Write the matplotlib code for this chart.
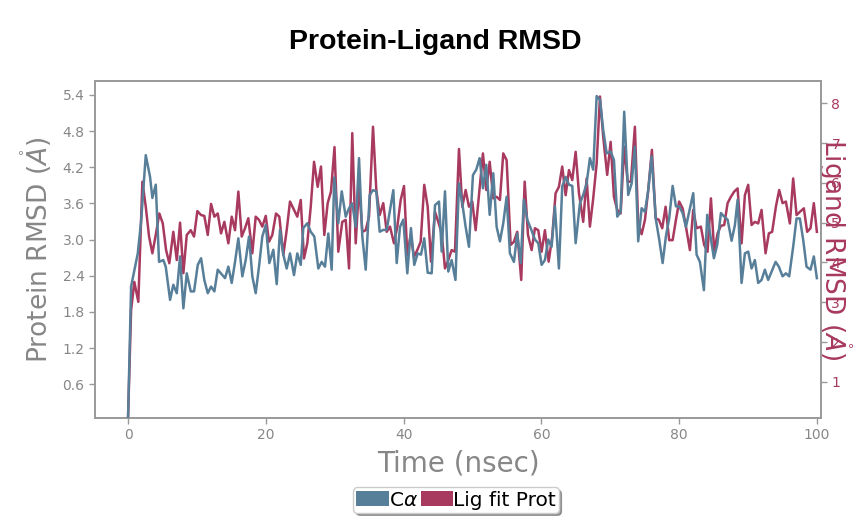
import matplotlib
matplotlib.use("Agg")
import matplotlib.pyplot as plt
from matplotlib.patches import Patch

# ---------------- data ----------------
ca_time = [0.0, 0.44, 1.41, 1.89, 2.57, 3.19, 3.53, 4.02, 4.50, 5.12, 5.47, 6.10, 6.57, 7.07, 7.55,
           8.03, 8.52, 9.10, 9.58, 10.12, 10.60, 11.07, 11.57, 12.05, 12.53, 13.02, 13.69, 14.08,
           14.56, 15.05, 15.53, 16.01, 16.59, 17.08, 17.56, 18.04, 18.53, 19.01, 19.49, 19.99,
           20.51, 21.09, 21.58, 22.06, 22.54, 23.03, 23.51, 24.09, 24.57, 25.07, 25.44, 26.02,
           26.52, 27.04, 27.62, 28.11, 28.59, 29.07, 29.56, 29.94, 30.52, 31.02, 31.60, 32.08,
           32.55, 33.05, 33.53, 34.01, 34.50, 35.08, 35.56, 36.04, 36.53, 37.05, 37.55, 38.03,
           38.51, 39.00, 39.48, 39.96, 40.54, 41.07, 41.55, 42.05, 42.53, 43.00, 43.50, 44.08,
           44.56, 45.14, 45.53, 46.01, 46.49, 46.98, 47.53, 48.04, 48.52, 49.01, 49.49, 50.07,
           50.55, 51.04, 51.52, 52.00, 52.50, 53.02, 53.51, 53.99, 54.47, 54.96, 55.44, 56.02,
           56.50, 57.00, 57.47, 57.95, 58.45, 59.07, 59.55, 60.04, 60.52, 61.00, 61.49, 61.97,
           62.55, 63.03, 63.53, 64.01, 64.49, 64.98, 65.60, 66.08, 66.57, 67.05, 67.53, 68.03,
           68.51, 68.98, 69.48, 70.06, 70.54, 71.02, 71.51, 72.03, 72.61, 73.11, 73.58, 74.06,
           74.56, 75.04, 75.52, 76.01, 76.63, 77.11, 77.61, 78.08, 78.56, 79.06, 79.54, 80.01,
           80.51, 80.99, 81.57, 82.05, 82.54, 83.02, 83.60, 84.08, 84.57, 85.05, 85.53, 86.07,
           86.55, 87.04, 87.62, 88.10, 88.49, 89.07, 89.55, 90.03, 90.52, 91.00, 91.48, 91.97,
           92.45, 92.93, 93.43, 94.01, 94.48, 95.02, 95.50, 95.98, 96.56, 97.05, 97.53, 98.01,
           98.50, 99.08, 99.56, 100.0]
ca_rmsd = [0.05, 2.22, 2.77, 3.30, 4.40, 4.04, 3.69, 3.91, 2.63, 2.66, 2.55, 2.00, 2.25, 2.11, 2.72,
           1.86, 2.44, 2.14, 2.14, 2.58, 2.69, 2.33, 2.11, 2.22, 2.14, 2.50, 2.41, 2.36,
           2.55, 2.28, 2.63, 3.02, 2.39, 2.66, 3.05, 2.39, 2.11, 2.55, 3.05, 3.24,
           2.61, 2.83, 2.26, 3.16, 2.75, 2.52, 2.77, 2.41, 2.77, 2.58, 3.19, 3.27,
           3.13, 3.05, 2.52, 2.63, 2.55, 3.10, 2.50, 4.03, 3.27, 3.80, 3.38, 3.52,
           3.60, 3.21, 4.35, 3.05, 2.50, 3.74, 3.82, 3.80, 3.13, 3.16, 3.16, 3.49,
           3.82, 2.61, 3.21, 3.33, 2.44, 3.19, 2.58, 2.77, 2.75, 3.02, 2.45, 2.44,
           3.57, 3.63, 2.80, 3.80, 2.47, 2.66, 2.33, 3.93, 3.60, 3.21, 2.88, 4.07,
           4.16, 4.35, 3.85, 4.24, 3.41, 4.10, 3.21, 2.97, 3.27, 3.71, 2.77, 2.63,
           3.10, 2.61, 3.66, 3.33, 3.19, 3.00, 2.94, 2.58, 2.66, 3.00, 2.88, 3.55,
           2.52, 3.88, 4.04, 3.91, 3.89, 2.94, 3.60, 3.74, 3.93, 4.35, 4.16, 5.38,
           5.32, 4.82, 4.43, 4.46, 4.32, 3.38, 3.46, 5.12, 3.74, 3.93, 4.54, 2.97,
           3.52, 3.46, 3.82, 4.38, 3.33, 3.00, 2.61, 3.05, 3.35, 3.89, 3.55, 3.55,
           3.44, 3.21, 3.52, 3.77, 2.75, 2.63, 2.16, 3.41, 3.05, 2.69, 2.91, 3.44,
           3.38, 3.33, 2.98, 3.24, 3.66, 2.28, 2.77, 2.80, 2.52, 2.66, 2.28, 2.33,
           2.50, 2.33, 2.47, 2.63, 2.55, 2.39, 2.44, 2.39, 2.88, 3.35, 3.35, 3.00,
           2.55, 2.50, 2.72, 2.36]

lig_time = [0.0, 0.44, 0.91, 1.49, 2.08, 2.57, 3.05, 3.53, 4.02, 4.54, 5.04, 5.52, 5.99, 6.57,
            7.07, 7.55, 8.03, 8.52, 9.10, 9.58, 10.06, 10.60, 11.07, 11.57, 12.05, 12.53, 13.02,
            13.50, 13.98, 14.56, 15.05, 15.53, 16.01, 16.50, 16.98, 17.46, 18.04, 18.53, 19.01,
            19.49, 19.99, 20.46, 20.94, 21.48, 21.96, 22.54, 23.03, 23.51, 23.99, 24.57, 25.07,
            25.54, 26.02, 26.52, 27.00, 27.53, 28.01, 28.49, 28.98, 29.46, 29.97, 30.52, 31.10,
            31.60, 32.08, 32.55, 33.05, 33.53, 34.01, 34.50, 34.98, 35.56, 36.04, 36.53, 37.05,
            37.55, 38.03, 38.61, 39.09, 39.58, 40.06, 40.54, 41.03, 41.51, 41.99, 42.48, 43.00,
            43.50, 43.98, 44.56, 45.04, 45.53, 46.01, 46.49, 46.98, 47.46, 48.04, 48.52, 49.01,
            49.49, 49.97, 50.46, 50.94, 51.52, 52.00, 52.50, 53.02, 53.51, 53.99, 54.47, 54.96,
            55.54, 56.02, 56.50, 57.08, 57.58, 58.06, 58.59, 59.07, 59.55, 60.04, 60.52, 61.06,
            61.58, 62.07, 62.55, 63.03, 63.53, 64.01, 64.49, 64.98, 65.46, 66.08, 66.57, 67.05,
            67.53, 68.03, 68.51, 68.98, 69.56, 70.06, 70.54, 71.02, 71.51, 72.03, 72.53, 73.00,
            73.58, 74.06, 74.56, 75.04, 75.52, 76.05, 76.59, 77.07, 77.55, 78.04, 78.56, 79.06,
            79.54, 80.01, 80.51, 80.99, 81.57, 82.05, 82.54, 83.16, 83.64, 84.13, 84.62, 85.10,
            85.59, 86.07, 86.55, 87.04, 87.52, 88.00, 88.49, 89.07, 89.55, 90.03, 90.52, 91.00,
            91.48, 91.97, 92.55, 93.03, 93.51, 94.05, 94.53, 95.02, 95.50, 96.08, 96.56, 97.05,
            97.53, 98.11, 98.59, 99.08, 99.56, 100.0]
lig_rmsd = [0.10, 2.80, 3.51, 3.01, 6.03, 5.40, 4.65, 4.23, 4.69, 5.23, 4.98, 4.31, 3.98, 4.77,
            4.06, 5.00, 3.73, 4.69, 4.81, 4.65, 5.29, 5.19, 5.17, 4.69, 5.47, 5.15, 5.23,
            4.73, 5.02, 4.48, 5.15, 4.81, 5.78, 4.65, 4.86, 5.11, 4.23, 5.15, 5.07,
            4.90, 5.17, 4.52, 4.69, 5.23, 5.15, 4.19, 4.81, 5.53, 5.36, 5.15, 5.57,
            4.10, 4.48, 5.40, 6.53, 5.90, 6.41, 4.69, 5.49, 5.78, 6.90, 4.27, 5.02,
            5.07, 3.85, 7.25, 4.48, 5.95, 4.77, 4.81, 5.15, 7.41, 5.82, 5.19, 5.49,
            4.77, 4.90, 4.48, 4.90, 5.57, 5.92, 4.19, 4.69, 4.14, 4.31, 4.52, 5.95,
            5.40, 4.02, 5.27, 5.02, 4.73, 3.85, 4.06, 4.31, 4.27, 6.85, 5.40, 5.82,
            5.40, 5.53, 4.81, 5.69, 6.74, 5.82, 6.53, 5.61, 5.65, 5.57, 6.74, 6.57,
            4.44, 4.52, 4.77, 3.56, 6.03, 4.69, 4.31, 4.86, 4.81, 4.27, 4.81, 4.02,
            4.65, 5.74, 5.90, 6.41, 5.69, 6.32, 6.07, 6.78, 5.74, 5.02, 6.11, 4.90,
            5.61, 6.49, 8.17, 7.16, 6.20, 7.03, 5.65, 5.32, 5.23, 6.91, 6.03, 6.03,
            7.41, 4.98, 4.71, 5.07, 5.82, 6.83, 5.11, 5.07, 4.86, 5.40, 4.56, 4.56,
            5.07, 5.53, 5.36, 4.90, 4.31, 5.32, 4.86, 4.90, 4.44, 4.27, 5.61, 4.27,
            4.73, 4.92, 4.94, 5.49, 5.65, 5.78, 5.86, 4.48, 5.69, 5.95, 4.94, 5.02,
            4.98, 5.32, 4.23, 4.73, 4.77, 5.40, 5.82, 5.49, 5.53, 4.98, 6.11, 5.19,
            5.27, 5.36, 4.77, 4.86, 5.49, 4.77]

left_ticks = [0.6, 1.2, 1.8, 2.4, 3.0, 3.6, 4.2, 4.8, 5.4]
right_ticks = [1, 2, 3, 4, 5, 6, 7, 8]
x_ticks = [0, 20, 40, 60, 80, 100]
series_labels = [r"C$\alpha$", "Lig fit Prot"]

# ---------------- style ----------------
BLUE = "#587f99"
RED = "#a8395f"
GRAY = "#878787"

fig = plt.figure(figsize=(8.56, 5.25), dpi=100)
ax = fig.add_axes([95 / 856, 1 - 418 / 525, (821 - 95) / 856, (418 - 81) / 525])
ax2 = ax.twinx()

ax.plot(ca_time, ca_rmsd, color=BLUE, lw=1.8, zorder=3)
ax2.plot(lig_time, lig_rmsd, color=RED, lw=1.8, zorder=3)
ax.set_zorder(ax2.get_zorder() + 1)
ax.patch.set_visible(False)

ax.set_xlim(-4.8, 100.6)
ax.set_ylim(0.04, 5.63)
ax2.set_ylim(0.09, 8.56)

ax.set_xticks(x_ticks)
ax.set_yticks(left_ticks)
ax.set_yticklabels([f"{v:.1f}" for v in left_ticks])
ax2.set_yticks(right_ticks)

for a in (ax, ax2):
    for s in a.spines.values():
        s.set_color("#999999")
        s.set_linewidth(1.2)

ax.tick_params(axis="both", colors=GRAY, labelsize=10, length=4, width=1, direction="out")
ax.tick_params(axis="x", colors="#999999", labelcolor=GRAY)
ax.tick_params(axis="y", colors="#999999", labelcolor=GRAY)
ax2.tick_params(axis="y", colors="#999999", labelcolor=RED, labelsize=10, length=4, width=1)

ax.set_xlabel("Time (nsec)", fontsize=20, color=GRAY, labelpad=5)
ax.set_ylabel(r"Protein RMSD ($\mathring{A}$)", fontsize=19, color=GRAY, labelpad=6)
ax2.set_ylabel(r"Ligand RMSD ($\mathring{A}$)", fontsize=19, color=RED, rotation=270,
               va="center", ha="center")
ax2.yaxis.set_label_coords((835 - 95) / 726, 0.5)

fig.text(435 / 856, 1 - 42 / 525, "Protein-Ligand RMSD", ha="center", va="center",
         fontsize=20.5, fontweight="bold", family="Liberation Sans")

handles = [Patch(facecolor=BLUE, edgecolor="none"), Patch(facecolor=RED, edgecolor="none")]
leg = fig.legend(handles, series_labels, loc="center", bbox_to_anchor=(456 / 856, 1 - 500 / 525),
                 ncol=2, fontsize=14.5, frameon=True, fancybox=True, shadow=True,
                 handlelength=1.6, handleheight=0.7, handletextpad=0.0, columnspacing=0.15,
                 borderpad=0.15, borderaxespad=0)
leg.get_frame().set_edgecolor("#cccccc")

fig.savefig("out.png", dpi=100)
